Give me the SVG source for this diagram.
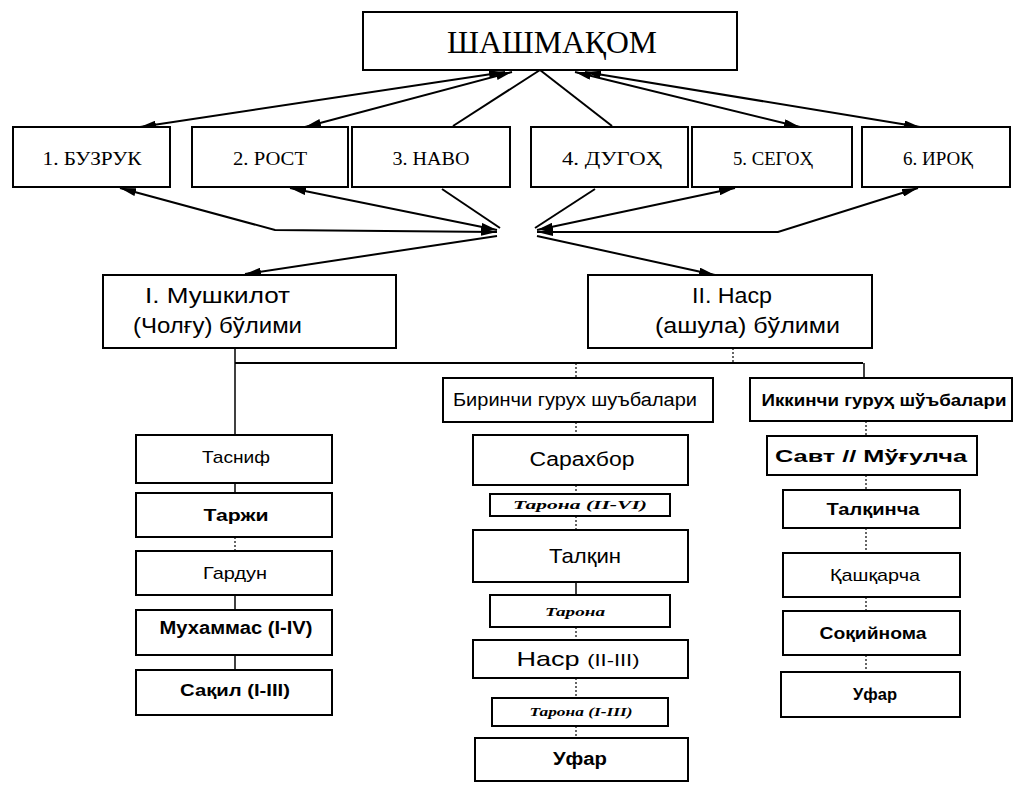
<svg xmlns="http://www.w3.org/2000/svg" width="1014" height="788" viewBox="0 0 1014 788">
<defs>
<marker id="ah" viewBox="0 0 16 8" markerWidth="16" markerHeight="8" refX="16" refY="4" orient="auto-start-reverse" markerUnits="userSpaceOnUse">
<path d="M0,0 L16,4 L0,8 z" fill="#000"/>
</marker>
<style>
.b{fill:#fff;stroke:#000;stroke-width:2}
.ser{font-family:"Liberation Serif",serif;fill:#000}
.san{font-family:"Liberation Sans",Arial,sans-serif;fill:#000}
.bd{font-weight:bold}
.it{font-style:italic;font-weight:bold;font-family:"Liberation Serif",serif;fill:#000}
.c{fill:none;stroke:#000;stroke-width:2}
.t{fill:none;stroke:#000;stroke-width:1.5}
.d{fill:none;stroke:#000;stroke-width:1.2;stroke-dasharray:2 2}
</style>
</defs>
<rect width="1014" height="788" fill="#fff"/>

<g id="connectors">
<line class="c" x1="505" y1="72" x2="140" y2="127" marker-start="url(#ah)" marker-end="url(#ah)"/>
<line class="c" x1="512" y1="72" x2="305" y2="127" marker-start="url(#ah)" marker-end="url(#ah)"/>
<line class="c" x1="540" y1="70" x2="453" y2="126"/>
<line class="c" x1="540" y1="70" x2="612" y2="126"/>
<line class="c" x1="575" y1="72" x2="800" y2="127" marker-start="url(#ah)" marker-end="url(#ah)"/>
<line class="c" x1="585" y1="72" x2="920" y2="127" marker-start="url(#ah)" marker-end="url(#ah)"/>

<polyline class="c" points="120,188 275,230 497,232" marker-start="url(#ah)" marker-end="url(#ah)"/>
<line class="c" x1="290" y1="188" x2="497" y2="230" marker-start="url(#ah)" marker-end="url(#ah)"/>
<line class="c" x1="442" y1="189" x2="500" y2="228"/>
<line class="c" x1="595" y1="189" x2="535" y2="228"/>
<line class="c" x1="735" y1="188" x2="537" y2="230" marker-start="url(#ah)" marker-end="url(#ah)"/>
<polyline class="c" points="918,188 778,232 537,232" marker-start="url(#ah)" marker-end="url(#ah)"/>
<line class="c" x1="497" y1="236" x2="245" y2="274" marker-end="url(#ah)"/>
<line class="c" x1="537" y1="236" x2="715" y2="275" marker-end="url(#ah)"/>

<line class="t" x1="235" y1="348" x2="235" y2="435"/>
<line class="c" x1="235" y1="363" x2="863" y2="363"/>
<line class="d" x1="733" y1="348" x2="733" y2="363"/>
<line class="d" x1="576" y1="363" x2="576" y2="378"/>
<line class="t" x1="864" y1="363" x2="864" y2="378"/>

<line class="t" x1="235" y1="483" x2="235" y2="493"/>
<line class="d" x1="235" y1="537" x2="235" y2="551"/>
<line class="t" x1="235" y1="595" x2="235" y2="610"/>
<line class="t" x1="235" y1="655" x2="235" y2="670"/>

<line class="d" x1="576" y1="422" x2="576" y2="435"/>
<line class="d" x1="576" y1="485" x2="576" y2="494"/>
<line class="d" x1="576" y1="516" x2="576" y2="530"/>
<line class="t" x1="576" y1="582" x2="576" y2="595"/>
<line class="d" x1="576" y1="627" x2="576" y2="640"/>
<line class="d" x1="576" y1="678" x2="576" y2="698"/>
<line class="d" x1="576" y1="726" x2="576" y2="738"/>

<line class="d" x1="866" y1="421" x2="866" y2="436"/>
<line class="d" x1="866" y1="475" x2="866" y2="490"/>
<line class="d" x1="866" y1="528" x2="866" y2="553"/>
<line class="d" x1="866" y1="597" x2="866" y2="611"/>
<line class="d" x1="866" y1="655" x2="866" y2="672"/>
</g>

<g id="n-shashmaqom"><rect class="b" x="363" y="12" width="374" height="58"/><text class="ser" x="552" y="53" font-size="32" text-anchor="middle" textLength="210" lengthAdjust="spacingAndGlyphs">ШАШМАҚОМ</text></g>

<g id="n-buzruk"><rect class="b" x="13" y="127" width="157" height="60"/><text class="ser" x="92" y="165" font-size="19" text-anchor="middle" textLength="99" lengthAdjust="spacingAndGlyphs">1. БУЗРУК</text></g>
<g id="n-rost"><rect class="b" x="192" y="127" width="156" height="60"/><text class="ser" x="270" y="165" font-size="19" text-anchor="middle" textLength="74" lengthAdjust="spacingAndGlyphs">2. РОСТ</text></g>
<g id="n-navo"><rect class="b" x="352" y="127" width="158" height="60"/><text class="ser" x="431" y="165" font-size="19" text-anchor="middle" textLength="77" lengthAdjust="spacingAndGlyphs">3. НАВО</text></g>
<g id="n-dugoh"><rect class="b" x="531" y="127" width="157" height="60"/><text class="ser" x="612" y="165" font-size="19" text-anchor="middle" textLength="100" lengthAdjust="spacingAndGlyphs">4. ДУГОҲ</text></g>
<g id="n-segoh"><rect class="b" x="692" y="127" width="160" height="60"/><text class="ser" x="773" y="165" font-size="19" text-anchor="middle" textLength="80" lengthAdjust="spacingAndGlyphs">5. СЕГОҲ</text></g>
<g id="n-iroq"><rect class="b" x="862" y="127" width="148" height="60"/><text class="ser" x="938" y="165" font-size="19" text-anchor="middle" textLength="70" lengthAdjust="spacingAndGlyphs">6. ИРОҚ</text></g>

<g id="n-mushkilot"><rect class="b" x="103" y="275" width="293" height="73"/>
<text class="san" x="145" y="303" font-size="22" textLength="145" lengthAdjust="spacingAndGlyphs">I. Мушкилот</text>
<text class="san" x="133" y="333" font-size="22" textLength="169" lengthAdjust="spacingAndGlyphs">(Чолғу) бўлими</text></g>
<g id="n-nasr"><rect class="b" x="588" y="275" width="284" height="73"/>
<text class="san" x="692" y="303" font-size="22" textLength="80" lengthAdjust="spacingAndGlyphs">II. Наср</text>
<text class="san" x="655" y="333" font-size="22" textLength="185" lengthAdjust="spacingAndGlyphs">(ашула) бўлими</text></g>

<g id="n-tasnif"><rect class="b" x="136" y="435" width="196" height="48"/><text class="san" x="236" y="463" font-size="17" text-anchor="middle" textLength="68" lengthAdjust="spacingAndGlyphs">Тасниф</text></g>
<g id="n-tarji"><rect class="b" x="136" y="493" width="196" height="44"/><text class="san bd" x="236" y="521" font-size="17" text-anchor="middle" textLength="65" lengthAdjust="spacingAndGlyphs">Таржи</text></g>
<g id="n-gardun"><rect class="b" x="136" y="551" width="196" height="44"/><text class="san" x="235" y="579" font-size="17" text-anchor="middle" textLength="64" lengthAdjust="spacingAndGlyphs">Гардун</text></g>
<g id="n-muhammas"><rect class="b" x="136" y="610" width="196" height="45"/><text class="san bd" x="236" y="634" font-size="18" text-anchor="middle" textLength="153" lengthAdjust="spacingAndGlyphs">Мухаммас (I-IV)</text></g>
<g id="n-saqil"><rect class="b" x="136" y="670" width="196" height="45"/><text class="san bd" x="235" y="696" font-size="17" text-anchor="middle" textLength="110" lengthAdjust="spacingAndGlyphs">Сақил (I-III)</text></g>

<g id="n-birinchi"><rect class="b" x="443" y="378" width="270" height="44"/><text class="san" x="575" y="406" font-size="18" text-anchor="middle" textLength="244" lengthAdjust="spacingAndGlyphs">Биринчи гурух шуъбалари</text></g>
<g id="n-sarahbor"><rect class="b" x="473" y="435" width="215" height="50"/><text class="san" x="582" y="466" font-size="20" text-anchor="middle" textLength="105" lengthAdjust="spacingAndGlyphs">Сарахбор</text></g>
<g id="n-tarona1"><rect class="b" x="490" y="494" width="180" height="22"/><text class="it" x="580" y="509" font-size="12" text-anchor="middle" textLength="134" lengthAdjust="spacingAndGlyphs">Тарона  (II-VI)</text></g>
<g id="n-talqin"><rect class="b" x="473" y="530" width="215" height="52"/><text class="san" x="585" y="563" font-size="21" text-anchor="middle" textLength="72" lengthAdjust="spacingAndGlyphs">Талқин</text></g>
<g id="n-tarona2"><rect class="b" x="490" y="595" width="180" height="32"/><text class="it" x="575" y="616" font-size="12" text-anchor="middle" textLength="60" lengthAdjust="spacingAndGlyphs">Тарона</text></g>
<g id="n-nasr2"><rect class="b" x="473" y="640" width="215" height="38"/><text class="san" x="578" y="666" font-size="21" text-anchor="middle" textLength="123" lengthAdjust="spacingAndGlyphs">Наср <tspan font-size="17">(II-III)</tspan></text></g>
<g id="n-tarona3"><rect class="b" x="492" y="698" width="176" height="28"/><text class="it" x="581" y="716" font-size="12" text-anchor="middle" textLength="103" lengthAdjust="spacingAndGlyphs">Тарона  (I-III)</text></g>
<g id="n-ufar1"><rect class="b" x="475" y="738" width="213" height="43"/><text class="san bd" x="580" y="765" font-size="18" text-anchor="middle" textLength="54" lengthAdjust="spacingAndGlyphs">Уфар</text></g>

<g id="n-ikkinchi"><rect class="b" x="750" y="378" width="262" height="43"/><text class="san bd" x="884" y="406" font-size="17" text-anchor="middle" textLength="245" lengthAdjust="spacingAndGlyphs">Иккинчи гуруҳ шўъбалари</text></g>
<g id="n-savt"><rect class="b" x="767" y="436" width="210" height="39"/><text class="san bd" x="871" y="462" font-size="17" text-anchor="middle" textLength="192" lengthAdjust="spacingAndGlyphs">Савт // Мўғулча</text></g>
<g id="n-talqincha"><rect class="b" x="783" y="490" width="177" height="38"/><text class="san bd" x="873" y="515" font-size="17" text-anchor="middle" textLength="93" lengthAdjust="spacingAndGlyphs">Талқинча</text></g>
<g id="n-qashqarcha"><rect class="b" x="783" y="553" width="177" height="44"/><text class="san" x="875" y="581" font-size="17" text-anchor="middle" textLength="90" lengthAdjust="spacingAndGlyphs">Қашқарча</text></g>
<g id="n-soqiynoma"><rect class="b" x="783" y="611" width="177" height="44"/><text class="san bd" x="873" y="639" font-size="17" text-anchor="middle" textLength="107" lengthAdjust="spacingAndGlyphs">Соқийнома</text></g>
<g id="n-ufar2"><rect class="b" x="781" y="672" width="179" height="45"/><text class="san bd" x="875" y="700" font-size="17" text-anchor="middle" textLength="44" lengthAdjust="spacingAndGlyphs">Уфар</text></g>
</svg>
